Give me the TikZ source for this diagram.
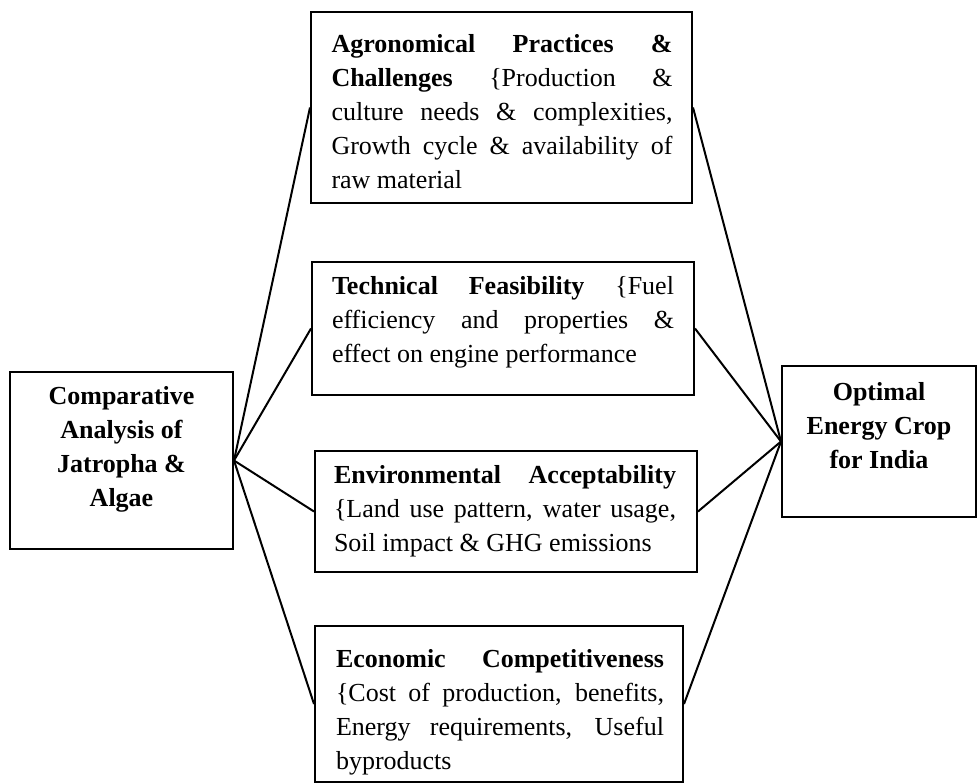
\documentclass[tikz,border=0pt]{standalone}
\usepackage{fontspec}
\setmainfont{Liberation Serif}
\tolerance=10000
\hyphenpenalty=10000
\tikzset{
  frame/.style={draw, line width=2pt, inner sep=0pt},
  midtext/.style={text width=#1, inner sep=0pt, align=justify, font=\fontsize{26}{34}\selectfont},
  sidetext/.style={align=center, inner sep=0pt, font=\fontsize{26}{34}\selectfont\bfseries},
  link/.style={line width=2pt}
}
\begin{document}
\begin{tikzpicture}[x=1pt,y=1pt]
\useasboundingbox (0,0) rectangle (978,-784);
% boxes
\node[frame, minimum width=381, minimum height=191] (A) at (501.5,-107.5) {};
\node[frame, minimum width=382, minimum height=133] (T) at (503,-328.5) {};
\node[frame, minimum width=382, minimum height=121] (E) at (506,-511.5) {};
\node[frame, minimum width=368, minimum height=156] (C) at (499,-704) {};
\node[frame, minimum width=223, minimum height=177] (L) at (121.5,-460.5) {};
\node[frame, minimum width=194, minimum height=151] (R) at (879,-441.5) {};
% texts
\node[midtext=341] (At) at (502,-111.5)
  {\textbf{Agronomical Practices \&}\linebreak \textbf{Challenges} \{Production \&\linebreak culture needs \& complexities,\linebreak Growth cycle \& availability of\linebreak raw material};
\node[midtext=342] (Tt) at (503,-322)
  {\textbf{Technical Feasibility} \{Fuel\linebreak efficiency and properties \&\linebreak effect on engine performance};
\node[midtext=342] (Et) at (505,-511)
  {\textbf{Environmental Acceptability}\linebreak \{Land use pattern, water usage,\linebreak Soil impact \& GHG emissions};
\node[midtext=328] (Ct) at (500,-712)
  {\textbf{Economic Competitiveness}\linebreak \{Cost of production, benefits,\linebreak Energy requirements, Useful\linebreak byproducts};
\node[sidetext] (Lt) at (121.5,-449)
  {Comparative\\Analysis of\\Jatropha \&\\Algae};
\node[sidetext] (Rt) at (879,-426)
  {Optimal\\Energy Crop\\for India};
% connectors
\foreach \n in {A,T,E,C}{
  \draw[link] (L.east) -- (\n.west);
  \draw[link] (\n.east) -- (R.west);
}
\end{tikzpicture}
\end{document}
